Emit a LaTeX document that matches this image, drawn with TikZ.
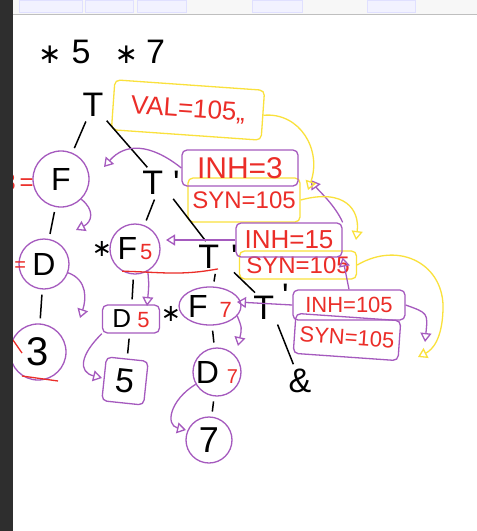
\documentclass[tikz,border=0pt]{standalone}
\usepackage{fontspec}
\setmainfont{Liberation Sans}
\newfontfamily\sym{DejaVu Sans}
\usetikzlibrary{arrows,arrows.meta,shapes}
\definecolor{purp}{RGB}{165,90,190}
\definecolor{yel}{RGB}{250,225,60}
\definecolor{redink}{RGB}{235,45,40}
\tikzset{
  blk/.style={font=\fontsize{34}{34}\selectfont, inner sep=0pt},
  star/.style={font=\fontsize{24}{24}\selectfont\sym, inner sep=0pt},
  rtxt/.style={text=redink, font=\fontsize{24}{24}\selectfont, inner sep=0pt},
  cir/.style={shape=circle, draw=purp, line width=1.3pt, inner sep=0pt, font=\fontsize{32}{32}\selectfont},
  pbox/.style={draw=purp, line width=1.3pt, rounded corners=5pt, text=redink, inner sep=0pt, font=\fontsize{26}{26}\selectfont},
  ybox/.style={pbox, draw=yel},
  tree/.style={line width=1.5pt, shorten <=5pt, shorten >=5pt},
  pa/.style={draw=purp, line width=1.3pt, -{Triangle[open,length=9pt,width=11pt]}},
  ya/.style={pa, draw=yel},
}
\begin{document}
\begin{tikzpicture}[x=1pt,y=-1pt]
                \useasboundingbox (0,0) rectangle (477,531);
                \fill[white] (0,0) rectangle (477,531);
                \fill[black!3] (13,0) rectangle (477,14);
                \foreach \a/\b in {19/82,85/133,137/186,252/302,367/415}
                    \fill[blue!5, draw=blue!12] (\a,0) rectangle (\b,12);
                \draw[black!25] (13,14.5) -- (477,14.5);

                \node[blk, anchor=west](expr)at(38,52){{\fontsize{28}{28}\sym ∗}\hspace{10pt}5\hspace{24pt}{\fontsize{28}{28}\sym ∗}\hspace{8pt}7};
                \node[blk](T0)at(93,105){T};
                \node[ybox, minimum width=150pt, minimum height=50pt, rotate=-4](val)at(188,110){VAL=105,,};
                \node[blk](T1)at(161,183){T\hspace{10pt}\textquotesingle};
                \node[ybox, minimum width=112pt, minimum height=44pt, font=\fontsize{24}{24}\selectfont](syn1)at(244,200){SYN=105};
                \node[pbox, minimum width=116pt, minimum height=36pt, font=\fontsize{30}{30}\selectfont](inh3)at(240,168){INH=3};

                \node[cir, minimum size=56pt](F1)at(61,179){F};
                \node[rtxt](F1v)at(18,182){3\,=};
                \node[cir, minimum size=50pt](D1)at(44,264){D};
                \node[rtxt, font=\fontsize{20}{20}\selectfont](D1v)at(13,265){3\,=};
                \node[cir, minimum size=56pt, font=\fontsize{40}{40}\selectfont](N3)at(38,352){3};

                \node[cir, minimum size=50pt](F5)at(135,249){F\hspace{3pt}\textcolor{redink}{\fontsize{22}{22}\selectfont 5}};
                \node[star](F5s)at(102,249){∗};
                \node[blk](T2)at(218,257){T\hspace{12pt}\textquotesingle};
                \node[ybox, minimum width=117pt, minimum height=28pt, font=\fontsize{24}{24}\selectfont](syn2)at(298,265){SYN=105};
                \node[pbox, minimum width=106pt, minimum height=34pt](inh15)at(289,240){INH=15};
                \node[pbox, text=black, minimum width=57pt, minimum height=28pt](D5)at(131,319){D\hspace{6pt}\textcolor{redink}{\fontsize{22}{22}\selectfont 5}};
                \node[pbox, text=black, minimum width=42pt, minimum height=44pt, rotate=-6, font=\fontsize{34}{34}\selectfont](B5)at(125,381){5};

                \node[cir, shape=ellipse, minimum width=60pt, minimum height=38pt](F7)at(210,306){F\hspace{12pt}\textcolor{redink}{\fontsize{22}{22}\selectfont 7}};
                \node[star](F7s)at(171,314){∗};
                \node[blk](T3)at(271,308){T\hspace{8pt}\smash{\raisebox{12pt}{\textquotesingle}}};
                \node[pbox, minimum width=112pt, minimum height=30pt, font=\fontsize{22}{22}\selectfont](inh105)at(349,305){INH=105};
                \node[pbox, minimum width=105pt, minimum height=40pt, rotate=-4, font=\fontsize{22}{22}\selectfont](syn3)at(347,337){SYN=105};
                \node[cir, minimum size=48pt](D7)at(217,372){D\hspace{8pt}\textcolor{redink}{\fontsize{20}{20}\selectfont 7}};
                \node[cir, minimum size=46pt, font=\fontsize{36}{36}\selectfont](N7)at(209,440){7};
                \node[blk](eps)at(300,381){\&};

                \path[tree] (T0) edge (F1)
                (T0) edge (T1)
                (F1) edge (D1)
                (D1) edge (N3)
                (T1) edge (F5)
                (T1) edge (T2)
                (F5) edge (D5)
                (D5) edge (B5)
                (T2) edge (F7)
                (T2) edge (T3)
                (F7) edge (D7)
                (D7) edge (N7)
                (T3) edge (eps);

                \coordinate(aF1)at(104,167);
                \coordinate(aD1)at(76,230);
                \coordinate(aN3)at(80,318);
                \coordinate(aF5)at(166,240);
                \coordinate(aD5)at(147,306);
                \coordinate(aB5)at(102,378);
                \coordinate(aF7)at(237,302);
                \coordinate(aD7)at(238,346);
                \coordinate(aN7)at(186,430);
                \coordinate(aT1)at(311,180);
                \coordinate(aI)at(425,342);
                \coordinate(aT1y)at(308,190);
                \coordinate(aS2)at(356,240);
                \coordinate(aI2)at(418,357);

                \draw[pa] (inh3.west) .. controls (150,143) and (125,143) .. (aF1);
                \draw[pa] (F1.-45) .. controls (95,210) and (92,222) .. (aD1);
                \draw[pa] (D1.-20) .. controls (88,280) and (86,300) .. (aN3);
                \draw[pa] (inh15.west) -- (aF5);
                \draw[pa] (F5.-60) .. controls (149,285) .. (aD5);
                \draw[pa] (D5.south west) .. controls (80,355) and (78,372) .. (aB5);
                \draw[pa] (inh105.west) -- (aF7);
                \draw[pa] (F7.-20) .. controls (242,328) .. (aD7);
                \draw[pa] (D7.-150) .. controls (170,400) and (165,425) .. (aN7);
                \draw[pa] (inh15.north east) .. controls (335,205) and (318,190) .. (aT1);
                \draw[pa] (inh105.north) -- (inh15.south east);
                \draw[pa] (inh105.east) .. controls (428,313) .. (aI);

                \draw[ya] (val.east) .. controls (300,112) and (322,150) .. (aT1y);
                \draw[ya] (syn1.east) .. controls (345,188) and (360,210) .. (aS2);
                \draw[ya] (syn2.east) .. controls (400,240) and (445,265) .. (443,310) .. controls (442,340) and (432,350) .. (aI2);

                \draw[redink, line width=1.3pt] (F5.-120) .. controls (160,272) and (180,276) .. (T2.south);
                \draw[redink, line width=1.3pt] (13,340) -- (22,353);
                \draw[redink, line width=1.3pt] (22,376) -- (58,381);

                \fill[black!82] (0,0) rectangle (13,531);
            \end{tikzpicture}
\end{document}
